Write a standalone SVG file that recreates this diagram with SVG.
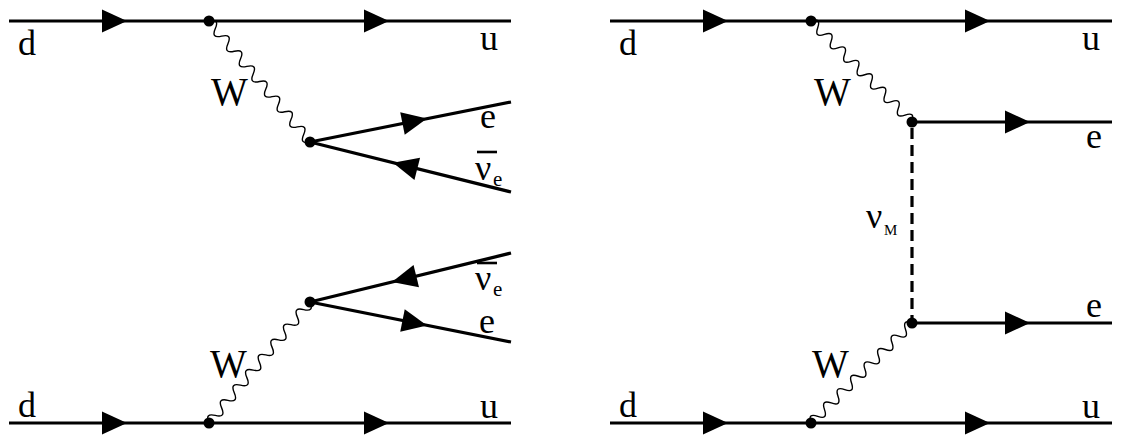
<svg xmlns="http://www.w3.org/2000/svg" width="1124" height="446" viewBox="0 0 1124 446">
<style>
.f{stroke:#000;stroke-width:3.2;fill:none}
.w{stroke:#000;stroke-width:1.4;fill:none}
.dash{stroke:#000;stroke-width:3.2;fill:none;stroke-dasharray:11 6}
.t{font-family:"Liberation Serif","Times New Roman",serif;font-size:36px;fill:#000}
.tw{font-family:"Liberation Serif","Times New Roman",serif;font-size:39px;fill:#000}
.ts{font-family:"Liberation Serif","Times New Roman",serif;font-size:21px;fill:#000}
.tm{font-family:"Liberation Serif","Times New Roman",serif;font-size:15px;fill:#000}
.bar{stroke:#000;stroke-width:2.6}
</style>
<defs>
<path id="arr" d="M0,0 L-25,-11.5 L-25,11.5 Z" fill="#000"/>
<path id="wave16" class="w" d="M0,0 q4.925,-10 9.85,0 t9.85,0 t9.85,0 t9.85,0 t9.85,0 t9.85,0 t9.85,0 t9.85,0 t9.85,0 t9.85,0 t9.85,0 t9.85,0 t9.85,0 t9.85,0 t9.85,0 t9.85,0"/>
<path id="wave15" class="w" d="M0,0 q4.75,-10 9.5,0 t9.5,0 t9.5,0 t9.5,0 t9.5,0 t9.5,0 t9.5,0 t9.5,0 t9.5,0 t9.5,0 t9.5,0 t9.5,0 t9.5,0 t9.5,0 t9.5,0"/>
</defs>
<g id="connectors">
<!-- left diagram, top -->
<line class="f" x1="9" y1="21" x2="511" y2="21"/>
<use href="#arr" transform="translate(127,21)"/>
<use href="#arr" transform="translate(389,21)"/>
<use href="#wave16" transform="translate(209,21) rotate(50.15)"/>
<line class="f" x1="310" y1="142" x2="511" y2="102"/>
<use href="#arr" transform="translate(427,118.6) rotate(-11.31)"/>
<line class="f" x1="310" y1="142" x2="511" y2="192"/>
<use href="#arr" transform="translate(393,162.8) rotate(194.04)"/>
<!-- left diagram, bottom -->
<line class="f" x1="9" y1="423" x2="511" y2="423"/>
<use href="#arr" transform="translate(127,423)"/>
<use href="#arr" transform="translate(389,423)"/>
<use href="#wave16" transform="translate(209,423) rotate(-50.15)"/>
<line class="f" x1="310" y1="302" x2="511" y2="253"/>
<use href="#arr" transform="translate(392,282) rotate(166.23)"/>
<line class="f" x1="310" y1="302" x2="511" y2="342"/>
<use href="#arr" transform="translate(427,325.4) rotate(11.31)"/>
<!-- right diagram -->
<line class="f" x1="610" y1="21" x2="1112" y2="21"/>
<use href="#arr" transform="translate(728,21)"/>
<use href="#arr" transform="translate(990,21)"/>
<use href="#wave15" transform="translate(811,21) rotate(45)"/>
<line class="f" x1="912" y1="122" x2="1112" y2="122"/>
<use href="#arr" transform="translate(1030,122)"/>
<line class="dash" x1="912" y1="128" x2="912" y2="318"/>
<line class="f" x1="912" y1="323" x2="1112" y2="323"/>
<use href="#arr" transform="translate(1030,323)"/>
<use href="#wave15" transform="translate(811,423) rotate(-44.7)"/>
<line class="f" x1="610" y1="423" x2="1112" y2="423"/>
<use href="#arr" transform="translate(728,423)"/>
<use href="#arr" transform="translate(990,423)"/>
</g>
<g id="v1"><circle cx="209" cy="21" r="5.5"/></g>
<g id="v2"><circle cx="310" cy="142" r="5.5"/></g>
<g id="v3"><circle cx="209" cy="423" r="5.5"/></g>
<g id="v4"><circle cx="310" cy="302" r="5.5"/></g>
<g id="v5"><circle cx="811" cy="21" r="5.5"/></g>
<g id="v6"><circle cx="912" cy="122" r="5.5"/></g>
<g id="v7"><circle cx="912" cy="323" r="5.5"/></g>
<g id="v8"><circle cx="811" cy="423" r="5.5"/></g>
<g id="labels">
<text class="t" x="18" y="55">d</text>
<text class="t" x="480" y="50">u</text>
<text class="tw" x="211" y="105">W</text>
<text class="t" x="480" y="128">e</text>
<g id="nubar1"><line class="bar" x1="477" y1="152" x2="497" y2="152"/><text class="t" x="475" y="180">ν</text><text class="ts" x="493" y="186">e</text></g>
<g id="nubar2"><line class="bar" x1="477" y1="263" x2="497" y2="263"/><text class="t" x="475" y="290">ν</text><text class="ts" x="493" y="296">e</text></g>
<text class="t" x="479" y="333">e</text>
<text class="tw" x="210" y="377">W</text>
<text class="t" x="18" y="417">d</text>
<text class="t" x="480" y="418">u</text>
<text class="t" x="619" y="55">d</text>
<text class="t" x="1082" y="50">u</text>
<text class="tw" x="814" y="105">W</text>
<text class="t" x="1086" y="148">e</text>
<g id="numaj"><text class="t" x="866" y="228">ν</text><text class="tm" x="884" y="235">M</text></g>
<text class="t" x="1086" y="317">e</text>
<text class="tw" x="812" y="377">W</text>
<text class="t" x="619" y="417">d</text>
<text class="t" x="1082" y="418">u</text>
</g>
</svg>
